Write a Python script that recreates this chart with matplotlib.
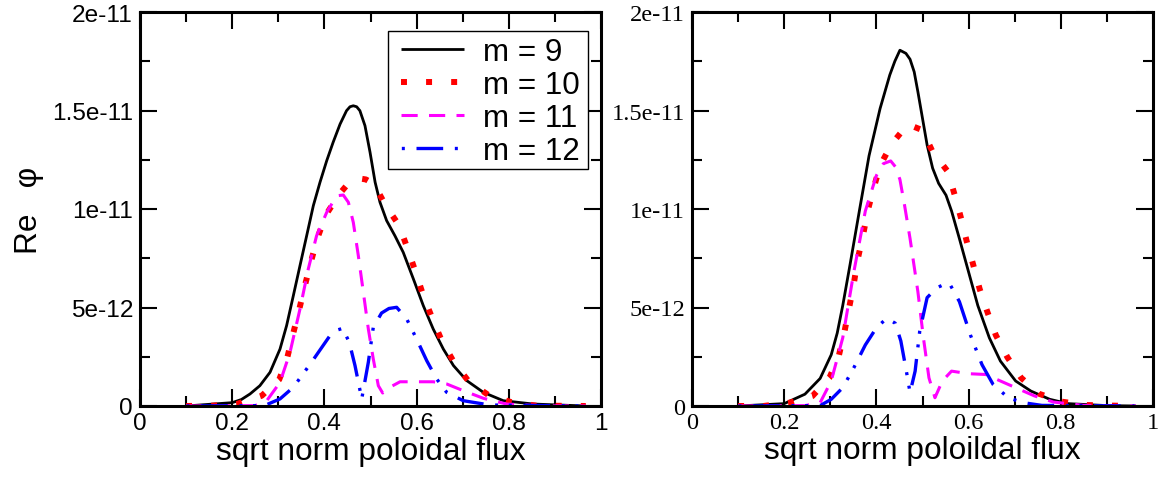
import matplotlib
matplotlib.use("Agg")
import matplotlib.pyplot as plt
from matplotlib.patches import Rectangle

# ---------------- data (units of 1e-12) ----------------
# Left panel
L9_x = [0.10, 0.20, 0.22, 0.2386, 0.260, 0.282, 0.3037, 0.318, 0.3326, 0.347, 0.3615, 0.376,
        0.3905, 0.405, 0.419, 0.434, 0.448, 0.4555, 0.4627, 0.470, 0.477, 0.488, 0.499, 0.51,
        0.5206, 0.535, 0.553, 0.571, 0.593, 0.6146, 0.636, 0.658, 0.680, 0.7087, 0.745, 0.788,
        0.853, 0.967]
L9_y = [0.0, 0.17, 0.33, 0.61, 1.03, 1.71, 2.89, 4.08, 5.60, 7.12, 8.64, 10.17,
        11.36, 12.45, 13.39, 14.31, 14.99, 15.19, 15.24, 15.19, 14.99, 14.23, 12.88, 11.36,
        10.34, 9.41, 8.64, 7.80, 6.45, 5.09, 3.91, 2.89, 2.05, 1.29, 0.69, 0.27,
        0.10, 0.0]

L10_x = [0.10, 0.16, 0.21, 0.264, 0.302, 0.3196, 0.3326, 0.3456, 0.358, 0.371, 0.3854, 0.4035,
         0.4324, 0.452, 0.4736, 0.49, 0.5076, 0.533, 0.5625, 0.5806, 0.598, 0.6146, 0.634,
         0.6544, 0.681, 0.7137, 0.7556, 0.806, 0.859, 0.9125, 0.967]
L10_y = [0.0, 0.02, 0.1, 0.52, 1.34, 2.47, 3.71, 4.92, 6.14, 7.34, 8.56, 9.71,
         10.76, 11.3, 11.56, 11.5, 11.27, 10.17, 9.15, 7.97, 6.79, 5.60, 4.45,
         3.32, 2.22, 1.23, 0.56, 0.19, 0.02, 0.01, 0.0]

L11_x = [0.10, 0.25, 0.275, 0.3037, 0.3254, 0.347, 0.365, 0.383, 0.405, 0.4266, 0.441, 0.452,
         0.4627, 0.4736, 0.4845, 0.4953, 0.506, 0.517, 0.5264, 0.542, 0.564, 0.600, 0.636,
         0.665, 0.701, 0.745, 0.795, 0.87, 0.967]
L11_y = [0.0, 0.02, 0.27, 1.20, 2.72, 4.92, 6.95, 8.64, 9.83, 10.67, 10.71, 10.34,
         9.32, 7.63, 5.77, 3.91, 2.39, 1.03, 0.66, 0.95, 1.23, 1.23, 1.23,
         1.12, 0.78, 0.39, 0.10, 0.01, 0.0]

L12_x = [0.10, 0.27, 0.3037, 0.3326, 0.372, 0.412, 0.427, 0.4396, 0.454, 0.4664, 0.481, 0.4953,
         0.506, 0.524, 0.540, 0.5567, 0.5785, 0.600, 0.622, 0.6436, 0.665, 0.701, 0.759, 0.96]
L12_y = [0.0, 0.02, 0.36, 0.95, 2.22, 3.57, 3.85, 3.94, 3.23, 2.05, 0.36, 2.22,
         3.99, 4.72, 4.95, 5.01, 4.42, 3.40, 2.30, 1.37, 0.70, 0.27, 0.05, 0.0]

# Right panel
R9_x = [0.10, 0.20, 0.245, 0.278, 0.302, 0.315, 0.327, 0.343, 0.363, 0.384, 0.408, 0.429, 0.44,
        0.451, 0.464, 0.473, 0.482, 0.49, 0.50, 0.51, 0.522, 0.535, 0.551, 0.563, 0.58, 0.60,
        0.62, 0.645, 0.669, 0.702, 0.735, 0.776, 0.816, 0.90, 0.963]
R9_y = [0.0, 0.12, 0.6, 1.4, 2.6, 3.7, 5.1, 7.2, 9.9, 12.7, 15.1, 16.8, 17.5,
        18.06, 17.9, 17.6, 16.96, 15.95, 14.6, 13.25, 12.07, 11.3, 10.7, 9.9, 8.5, 6.8,
        5.1, 3.46, 2.28, 1.27, 0.76, 0.34, 0.12, 0.02, 0.0]

R10_x = [0.10, 0.155, 0.212, 0.261, 0.298, 0.318, 0.331, 0.341, 0.351, 0.359, 0.371, 0.381,
         0.394, 0.408, 0.433, 0.468, 0.50, 0.522, 0.555, 0.57, 0.584, 0.596, 0.61, 0.624,
         0.641, 0.659, 0.684, 0.714, 0.753, 0.802, 0.855, 0.909, 0.962]
R10_y = [0.0, 0.0, 0.17, 0.5, 1.43, 2.5, 3.8, 5.0, 6.2, 7.4, 8.66, 9.9,
         11.05, 12.2, 13.3, 14.3, 14.0, 12.9, 11.9, 10.7, 9.5, 8.35, 7.17, 5.94,
         4.76, 3.6, 2.48, 1.43, 0.62, 0.22, 0.05, 0.02, 0.0]

R11_x = [0.10, 0.245, 0.278, 0.302, 0.327, 0.351, 0.376, 0.40, 0.415, 0.431, 0.441, 0.451,
         0.461, 0.473, 0.49, 0.502, 0.514, 0.527, 0.543, 0.563, 0.60, 0.637, 0.669, 0.702,
         0.743, 0.784, 0.85, 0.963]
R11_y = [0.0, 0.02, 0.17, 1.27, 3.46, 6.8, 9.9, 11.7, 12.3, 12.44, 12.15, 11.5,
         10.2, 8.5, 5.8, 3.46, 1.43, 0.42, 1.27, 1.77, 1.64, 1.6, 1.27, 0.93,
         0.51, 0.2, 0.03, 0.0]

R12_x = [0.10, 0.278, 0.302, 0.327, 0.351, 0.376, 0.40, 0.42, 0.43, 0.441, 0.453, 0.465, 0.473,
         0.484, 0.494, 0.51, 0.531, 0.545, 0.559, 0.58, 0.604, 0.629, 0.653, 0.686, 0.718,
         0.759, 0.96]
R12_y = [0.0, 0.02, 0.34, 0.93, 1.94, 3.1, 3.97, 4.4, 4.35, 4.2, 3.3, 1.77, 0.68,
         1.77, 3.8, 5.5, 6.0, 6.15, 6.2, 5.3, 3.6, 2.1, 1.1, 0.42, 0.17,
         0.03, 0.0]

labels = ["m = 9", "m = 10", "m = 11", "m = 12"]
x_ticks = [0, 0.2, 0.4, 0.6, 0.8, 1]
x_ticklabels = ["0", "0.2", "0.4", "0.6", "0.8", "1"]
y_ticks = [0, 5e-12, 1e-11, 1.5e-11, 2e-11]
y_ticklabels = ["0", "5e-12", "1e-11", "1.5e-11", "2e-11"]
scale = 1e-12

# ---------------- styles ----------------
colors = ["#000000", "#ff0000", "#ff00ff", "#0000ff"]
styles = [
    dict(lw=2.0, ls="-"),
    dict(lw=4.3, ls=(0, (1.0, 3.2))),
    dict(lw=2.2, ls=(0, (5.3, 3.7))),
    dict(lw=2.4, ls=(15.5, (8.0, 3.5, 0.9, 3.2, 0.9, 3.5))),
]

W, H = 1171, 481
fig = plt.figure(figsize=(W / 100, H / 100), dpi=100)
axL = fig.add_axes([140 / W, (H - 407) / H, 461 / W, 394 / H])
axR = fig.add_axes([692 / W, (H - 407) / H, 461 / W, 394 / H])

sans = "Liberation Sans"
serif = "Liberation Serif"


def setup(ax, tickfont):
    ax.set_xlim(0, 1)
    ax.set_ylim(0, 2e-11)
    ax.set_xticks(x_ticks)
    ax.set_xticklabels(x_ticklabels, fontfamily=tickfont, fontsize=17.5)
    ax.set_yticks(y_ticks)
    ax.set_yticklabels(y_ticklabels, fontfamily=tickfont, fontsize=17.5)
    ax.set_xticks([0.1, 0.3, 0.5, 0.7, 0.9], minor=True)
    ax.set_yticks([2.5e-12, 7.5e-12, 1.25e-11, 1.75e-11], minor=True)
    ax.tick_params(which="both", direction="in", top=True, right=True, width=1.5)
    ax.tick_params(which="major", length=12)
    ax.tick_params(which="minor", length=7)
    ax.tick_params(axis="x", which="major", pad=4)
    ax.tick_params(axis="y", which="major", pad=5)
    for s in ax.spines.values():
        s.set_linewidth(2.2)


def draw(ax, xs, ys):
    handles = []
    for x, y, c, st, lab in zip(xs, ys, colors, styles, labels):
        h, = ax.plot(x, [v * scale for v in y], color=c, lw=st["lw"], ls=st["ls"],
                     label=lab, dash_capstyle="butt", solid_joinstyle="round",
                     solid_capstyle="butt")
        handles.append(h)
    return handles


hL = draw(axL, [L9_x, L10_x, L11_x, L12_x], [L9_y, L10_y, L11_y, L12_y])
draw(axR, [R9_x, R10_x, R11_x, R12_x], [R9_y, R10_y, R11_y, R12_y])

setup(axL, sans)
setup(axR, serif)

xlL = axL.set_xlabel("sqrt norm poloidal flux", fontfamily=sans, fontsize=22.5, labelpad=2)
xlR = axR.set_xlabel("sqrt norm poloildal flux", fontfamily=sans, fontsize=22.5, labelpad=2)
axL.set_ylabel("Re   φ", fontfamily=sans, fontsize=22.5, labelpad=6)

# ---- fit font sizes to the widths measured on the reference ----
fig.canvas.draw()
r = fig.canvas.get_renderer()


def width_of(t):
    return t.get_window_extent(r).width


for ax, target in ((axL, 81.0), (axR, 73.0)):
    lab = [t for t in ax.get_yticklabels() if t.get_text() == "1.5e-11"][0]
    size = lab.get_fontsize() * target / width_of(lab)
    for t in ax.get_xticklabels() + ax.get_yticklabels():
        t.set_fontsize(size)

fs = xlL.get_fontsize() * 309.0 / width_of(xlL)
xlL.set_fontsize(fs)
xlR.set_fontsize(fs)
axL.yaxis.label.set_fontsize(fs)

leg = axL.legend(handles=hL, loc="upper left", bbox_to_anchor=((401 - 140) / 461, (407 - 38) / 394),
                 frameon=False, borderpad=0, borderaxespad=0, handlelength=2.06,
                 handletextpad=0.62, labelspacing=0.1, prop=dict(family=sans, size=22))
fig.canvas.draw()
t10 = leg.get_texts()[1]
lfs = 22 * 97.0 / width_of(t10)
leg.remove()
leg = axL.legend(handles=hL, loc="upper left", bbox_to_anchor=((401 - 140) / 461, (407 - 38) / 394),
                 frameon=False, borderpad=0, borderaxespad=0, handlelength=63 / (lfs * 100 / 72),
                 handletextpad=19 / (lfs * 100 / 72), labelspacing=0.1,
                 prop=dict(family=sans, size=lfs))
axL.add_patch(Rectangle(((388 - 140) / 461, (407 - 170) / 394), 200 / 461, 138 / 394,
                        transform=axL.transAxes, fill=True, facecolor="white",
                        edgecolor="black", lw=1.0, zorder=4))
leg.set_zorder(5)

fig.savefig("out.png", dpi=100)
